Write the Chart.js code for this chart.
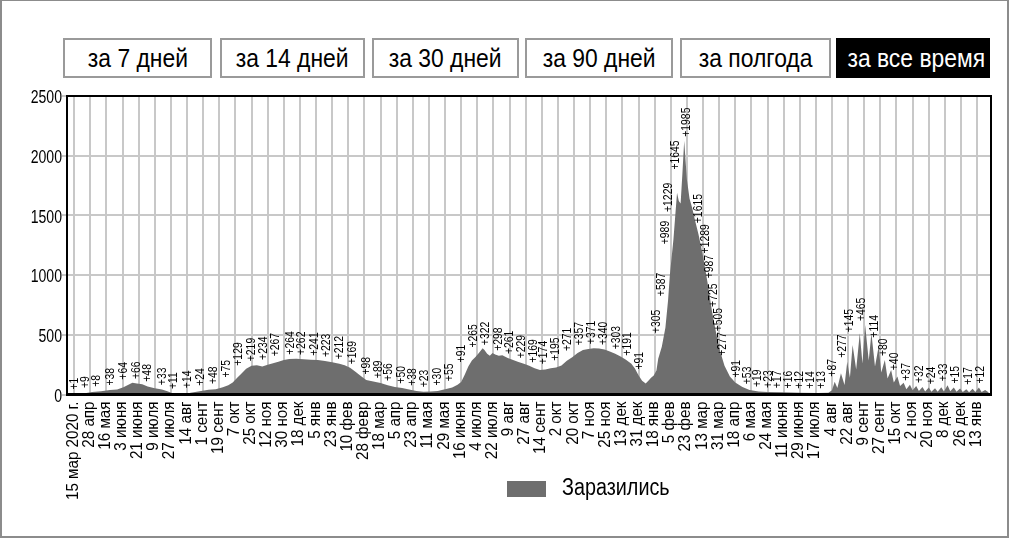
<!DOCTYPE html>
<html>
<head>
<meta charset="utf-8">
<script src="https://cdn.jsdelivr.net/npm/chart.js@4.4.1/dist/chart.umd.min.js"></script>
<style>
  body { margin:0; background:#fff; width:1010px; height:540px; overflow:hidden; position:relative;
         font-family:"Liberation Sans",Arial,sans-serif; }
  #frame { position:absolute; left:0; top:0; width:1005px; height:535px; border:2px solid #8c8c8c; border-top-width:1px; }
  .btn { position:absolute; top:38px; height:36px; border:2px solid #9a9a9a; background:#fff; color:#000;
         font-size:26px; line-height:36px; text-align:center; box-sizing:content-box; white-space:nowrap; overflow:hidden; }
  .btn span { display:inline-block; transform:scaleX(0.88); transform-origin:50% 50%; }
  .btn.active { background:#000; color:#fff; border-color:#000; }
  #chartWrap { position:absolute; left:0; top:86px; width:1010px; height:454px; }
  #legend { position:absolute; left:507px; top:476px; height:26px; }
  #legend .box { position:absolute; left:0; top:5px; width:39px; height:16px; background:#6e6e6e; }
  #legend .txt { position:absolute; left:55px; top:-2px; font-size:23px; white-space:nowrap; color:#000;
                 transform:scaleX(0.86); transform-origin:0 50%; }
</style>
</head>
<body>
<div id="frame"></div>
<div id="buttons"></div>
<div id="chartWrap"><canvas id="c" width="1010" height="454"></canvas></div>
<div id="legend"><div class="box"></div><div class="txt" id="legTxt"></div></div>
<script>
// ---------- DATA ----------
const periodButtons = ["за 7 дней", "за 14 дней", "за 30 дней", "за 90 дней", "за полгода", "за все время"];
const seriesName = "Заразились";

// x tick labels, one every 18 days starting at day 0 (15 мар 2020)
const tickLabels = ["15 мар 2020 г.", "28 апр", "16 мая", "3 июня", "21 июня", "9 июля", "27 июля", "14 авг",
  "1 сент", "19 сент", "7 окт", "25 окт", "12 ноя", "30 ноя", "18 дек", "5 янв", "23 янв", "10 фев", "28 февр",
  "18 мар", "5 апр", "23 апр", "11 мая", "29 мая", "16 июня", "4 июля", "22 июля", "9 авг", "27 авг", "14 сент",
  "2 окт", "20 окт", "7 ноя", "25 ноя", "13 дек", "31 дек", "18 янв", "5 фев", "23 фев", "13 мар", "31 мар",
  "18 апр", "6 мая", "24 мая", "11 июня", "29 июня", "17 июля", "4 авг", "22 авг", "9 сент", "27 сент", "15 окт",
  "2 ноя", "20 ноя", "8 дек", "26 дек", "13 янв"];
const tickStepDays = 18;

// outline of the daily-cases area (day index, cases)
const days = [0,12,20,30,40,48,55,60,65,70,76,82,90,98,104,109,115,124,130,140,150,158,166,172,177,182,186,192,198,204,
  210,216,222,228,234,240,248,256,264,272,280,288,296,302,308,314,320,326,334,342,350,358,366,374,382,390,398,406,414,422,
  428,432,436,440,444,448,452,456,458,461,464,467,470,474,478,484,490,496,502,508,514,520,526,532,538,544,550,556,562,568,
  574,580,586,592,598,604,610,616,622,626,630,634,638,641,644,647,650,652,656,660,663,665,669,673,675,677,679,681,684,687,
  690,693,697,702,707,712,716,720,726,732,738,746,754,764,774,790,810,830,842,
  846,849,852,856,860,863,866,869,873,877,880,883,887,890,894,898,901,905,908,912,915,919,922,926,929,933,936,940,943,
  947,950,954,957,961,964,968,971,975,978,982,985,989,992,996,999,1003,1006,1010,1013,1017,1021];
const cases = [3,10,20,28,38,42,60,80,98,92,85,68,52,42,28,12,4,5,14,28,40,45,60,78,100,140,170,215,240,245,
  235,250,262,275,288,298,300,295,292,288,280,270,258,245,225,190,155,122,108,96,78,62,54,42,30,24,26,30,44,58,
  82,104,165,235,285,315,350,388,372,342,325,348,335,325,328,305,288,272,258,240,220,206,210,220,226,242,282,312,348,372,
  382,388,386,376,360,342,318,292,258,218,162,116,92,116,140,160,200,300,400,560,790,1000,1300,1690,1620,1600,1850,2125,1800,1640,
  1560,1462,1340,1160,940,700,540,390,240,150,100,62,37,26,21,18,15,13,15,
  35,107,55,177,80,274,140,415,210,512,260,582,285,512,235,400,185,289,135,205,100,150,72,98,45,82,35,72,30,
  62,26,58,24,52,22,60,26,78,28,58,24,50,20,44,18,48,20,58,20,38,16];

// value call-outs printed above the area (day index, value)
const noteDays = [0,12,25,40,55,69,82,98,111,126,141,155,170,183,198,211,225,241,254,268,282,296,311,326,339,351,365,378,391,405,
  419,432,445,459,473,486,499,512,524,537,551,564,577,591,605,618,631,650,655,660,663,671,683,697,704,709,714,719,724,739,
  751,763,775,785,797,810,822,834,846,857,865,879,893,903,915,929,943,957,970,984,998,1012];
const noteValues = [1,9,8,38,64,66,48,33,11,14,24,48,75,129,219,234,267,264,262,241,223,212,169,98,89,56,50,38,23,30,
  55,91,265,322,298,261,229,169,174,195,271,357,371,340,303,191,91,305,587,989,1229,1645,1985,1615,1289,987,725,505,277,91,
  53,19,23,17,16,12,14,13,87,277,145,465,114,80,40,37,32,24,33,15,17,12];

const yTicks = [0, 500, 1000, 1500, 2000, 2500];

// ---------- PAGE ----------
const FONT = '"Liberation Sans", Arial, sans-serif';
const btnBoxes = [[63,149],[220,145],[372,147],[525,148],[680,151],[836,154]];
const bc = document.getElementById('buttons');
periodButtons.forEach((t, i) => {
  const d = document.createElement('div');
  d.className = 'btn' + (i === periodButtons.length - 1 ? ' active' : '');
  d.style.left = btnBoxes[i][0] + 'px';
  d.style.width = (btnBoxes[i][1] - 4) + 'px';
  const s = document.createElement('span');
  s.textContent = t;
  d.appendChild(s);
  bc.appendChild(d);
});
document.getElementById('legTxt').textContent = seriesName;

function interp(d) {
  if (d <= days[0]) return cases[0];
  for (let i = 1; i < days.length; i++) {
    if (d <= days[i]) {
      const t = (d - days[i-1]) / (days[i] - days[i-1]);
      return cases[i-1] + t * (cases[i] - cases[i-1]);
    }
  }
  return cases[cases.length - 1];
}
function maxInWindow(a, b) {
  let m = Math.max(interp(a), interp(b));
  days.forEach((d, i) => { if (d >= a && d <= b) m = Math.max(m, cases[i]); });
  return m;
}
// condensed text helper
function condText(ctx, txt, x, y, rot, sx, align, baseline) {
  ctx.save();
  ctx.translate(x, y);
  if (rot) ctx.rotate(rot);
  ctx.scale(sx, 1);
  ctx.textAlign = align;
  ctx.textBaseline = baseline;
  ctx.fillText(txt, 0, 0);
  ctx.restore();
}

const framePlugin = {
  id: 'frame',
  afterDatasetsDraw(chart) {
    const {ctx, chartArea: a, scales} = chart;
    const xs = scales.x, ys = scales.y;
    ctx.save();
    ctx.strokeStyle = '#000';
    ctx.lineWidth = 2;
    ctx.beginPath();
    ctx.moveTo(a.left, a.bottom); ctx.lineTo(a.left, a.top); ctx.lineTo(a.right, a.top); ctx.lineTo(a.right, a.bottom);
    ctx.stroke();
    ctx.lineWidth = 3;
    ctx.beginPath(); ctx.moveTo(a.left - 1, a.bottom); ctx.lineTo(a.right + 1, a.bottom); ctx.stroke();

    ctx.fillStyle = '#000';
    // y tick labels
    ctx.font = '19px ' + FONT;
    ys.ticks.forEach(t => condText(ctx, String(t.value), a.left - 5, ys.getPixelForValue(t.value) + 2, 0, 0.74, 'right', 'middle'));
    // x tick labels
    ctx.font = '16.5px ' + FONT;
    xs.ticks.forEach((t, i) => condText(ctx, tickLabels[i], xs.getPixelForValue(t.value) - 1, a.bottom + 7, -Math.PI / 2, 0.92, 'right', 'middle'));

    // call-outs
    const fs = 13.5;
    ctx.font = fs + 'px ' + FONT;
    const sx = 0.77;
    const placed = [];
    noteDays.forEach((d, i) => {
      const txt = '+' + noteValues[i];
      const x = xs.getPixelForValue(d);
      const L = ctx.measureText(txt).width * sx;
      let yb = ys.getPixelForValue(maxInWindow(d - 2, d + 8)) - 4;
      for (let k = placed.length - 1; k >= Math.max(0, placed.length - 4); k--) {
        const p = placed[k];
        if (Math.abs(p.x - x) < 8 && yb > p.top - 1 && yb - L < p.bottom + 1) {
          if (yb - p.bottom > 6) yb = p.bottom + 1 + L;
          else yb = p.top - 2;
        }
      }
      condText(ctx, txt, x, yb, -Math.PI / 2, sx, 'left', 'middle');
      placed.push({x: x, top: yb - L, bottom: yb});
    });
    ctx.restore();
  }
};

new Chart(document.getElementById('c'), {
  type: 'line',
  data: {
    datasets: [{
      label: seriesName,
      data: days.map((d, i) => ({x: d, y: cases[i]})),
      fill: 'origin',
      backgroundColor: '#6e6e6e',
      borderWidth: 0,
      pointRadius: 0,
      tension: 0
    }]
  },
  options: {
    responsive: false,
    animation: false,
    events: [],
    layout: { padding: { left: 0, top: 10, right: 19, bottom: 0 } },
    plugins: { legend: { display: false }, tooltip: { enabled: false } },
    scales: {
      x: {
        type: 'linear',
        min: -8,
        max: 1023.5,
        afterBuildTicks(s) { s.ticks = tickLabels.map((_, i) => ({ value: i * tickStepDays })); },
        afterFit(s) { s.height = 145.5; },
        ticks: { display: false, autoSkip: false },
        grid: { color: '#c8c8c8', lineWidth: 2, drawTicks: false },
        border: { display: false }
      },
      y: {
        min: 0, max: 2500,
        afterBuildTicks(s) { s.ticks = yTicks.map(v => ({ value: v })); },
        afterFit(s) { s.width = 67; },
        ticks: { display: false },
        grid: { color: '#c8c8c8', lineWidth: 2, tickLength: 5 },
        border: { display: false }
      }
    }
  },
  plugins: [framePlugin]
});
</script>
</body>
</html>
